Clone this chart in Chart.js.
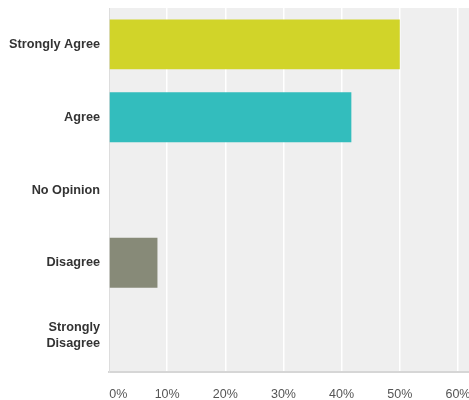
<!DOCTYPE html>
<html>
<head>
<meta charset="utf-8">
<script src="https://cdn.jsdelivr.net/npm/chart.js@4/dist/chart.umd.min.js"></script>
<style>
  html, body { margin: 0; padding: 0; background: #fff; overflow: hidden; }
  #wrap { width: 469px; height: 400px; }
</style>
</head>
<body>
<div id="wrap"><canvas id="surveyChart" width="469" height="400"></canvas></div>
<script>
// answer choices and share of responses (%)
const answers = ['Strongly Agree', 'Agree', 'No Opinion', 'Disagree', ['Strongly', 'Disagree']];
const shares = [50, 41.67, 0, 8.33, 0];
const barColors = ['#d1d429', '#33bdbd', '#ffffff', '#878a78', '#ffffff'];
const tickValues = [0, 10, 20, 30, 40, 50, 60];

// grey panel behind the bars
const panelBg = {
    id: 'panelBg',
    beforeDraw(chart) {
        const a = chart.chartArea;
        const ctx = chart.ctx;
        ctx.save();
        ctx.fillStyle = '#efefef';
        ctx.fillRect(a.left, a.top, a.right - a.left, a.bottom - a.top);
        ctx.restore();
    }
};

// keep the plot edges where the original has them
function noPad(scale) {
    scale.paddingLeft = 0;
    scale.paddingRight = 0;
    scale.paddingTop = 0;
    scale.paddingBottom = 0;
}

const ctx = document.getElementById('surveyChart').getContext('2d');
const chart = new Chart(ctx, {
    type: 'bar',
    data: {
        labels: answers,
        datasets: [{
            data: shares,
            backgroundColor: barColors,
            borderWidth: 0,
            barPercentage: 0.685,
            categoryPercentage: 1
        }]
    },
    plugins: [panelBg],
    options: {
        indexAxis: 'y',
        responsive: false,
        animation: false,
        layout: { padding: { top: 8, right: 0, left: 0, bottom: 0 } },
        plugins: { legend: { display: false }, tooltip: { enabled: false } },
        scales: {
            x: {
                min: 0,
                max: 61.9,
                afterBuildTicks: scale => {
                    scale.ticks = tickValues.map(v => ({ value: v }));
                },
                afterFit: scale => { scale.height = 28; noPad(scale); },
                grid: { color: '#ffffff', lineWidth: 1.5, drawTicks: false },
                border: { color: '#d6d6d6', width: 2 },
                ticks: {
                    padding: 15,
                    color: '#555555',
                    font: { family: 'Arial, "Liberation Sans", sans-serif', size: 12.5 },
                    // first label sits just right of the axis, as in the original
                    callback: v => (v === 0 ? '\u2002\u2002\u2002' : '') + v + '%'
                }
            },
            y: {
                afterFit: scale => { scale.width = 109; noPad(scale); },
                grid: { display: false, drawTicks: false },
                border: { color: '#dddddd', width: 1 },
                ticks: {
                    padding: 9,
                    color: '#333333',
                    font: { family: 'Arial, "Liberation Sans", sans-serif', size: 12.7, weight: 'bold' }
                }
            }
        }
    }
});
</script>
</body>
</html>
